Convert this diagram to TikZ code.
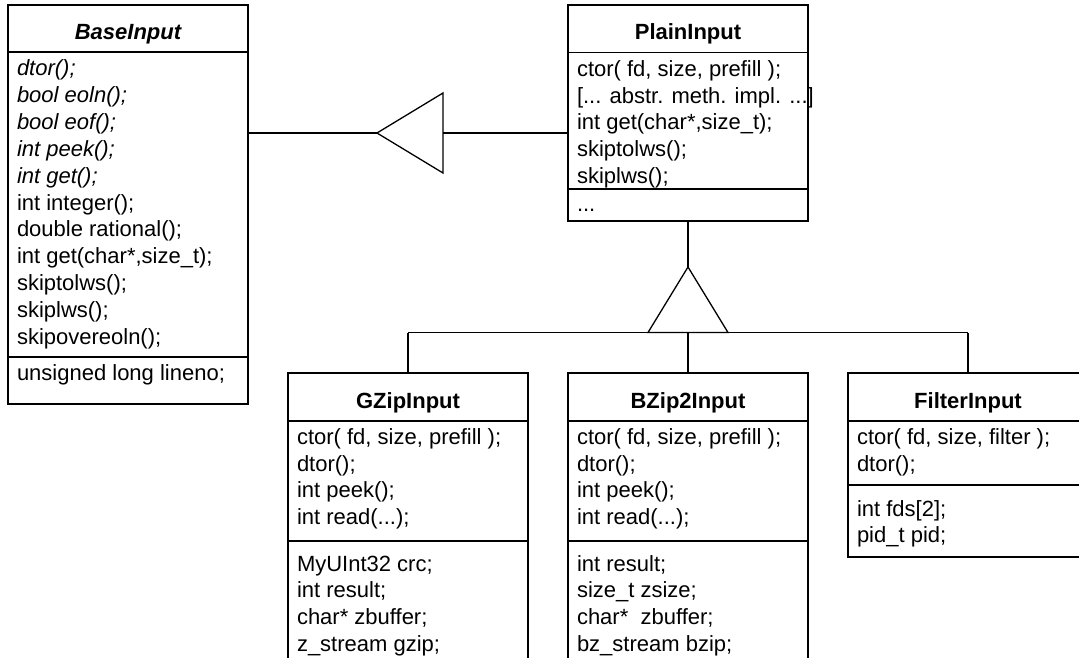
\documentclass[tikz,border=0pt]{standalone}
\usepackage{fontspec}
\setmainfont{Liberation Sans}
\newcommand{\mydots}{...}
\begin{document}
\begin{tikzpicture}[x=1pt,y=-1pt,
  comp/.style={draw=black, line width=1.3pt, minimum width=240pt, inner sep=0pt, outer sep=0pt, anchor=north west},
  txt/.style={font=\fontsize{22}{26.7}\selectfont, inner sep=0pt, outer sep=0pt, anchor=base west},
  ttl/.style={font=\fontsize{22}{26.7}\selectfont\bfseries, inner sep=0pt, outer sep=0pt, anchor=base},
  conn/.style={draw=black, line width=1.3pt}]
\useasboundingbox (0,0) rectangle (1079,658);
\clip (0,0) rectangle (1079,658);

% BaseInput
\node[comp, minimum height=47pt] (baseT) at (8,5) {};
\node[comp, minimum height=305pt] (baseM) at (8,52) {};
\node[comp, minimum height=47pt] (baseA) at (8,357) {};
\node[ttl] (baseN) at (128,40) {\itshape BaseInput};
\foreach \t [count=\i from 0] in {{\itshape dtor();},{\itshape bool eoln();},{\itshape bool eof();},{\itshape int peek();},{\itshape int get();},{int integer();},{double rational();},{int get(char*,size\_t);},{skiptolws();},{skiplws();},{skipovereoln();}}
  \node[txt] (bm\i) at (17,{75.5+26.9*\i}) {\t};
\node[txt] (ba0) at (17,380) {unsigned long lineno;};

% PlainInput
\node[comp, minimum height=47.5pt] (plT) at (568,5) {};
\node[comp, minimum height=136.5pt] (plM) at (568,52.5) {};
\node[comp, minimum height=32pt] (plA) at (568,189) {};
\node[ttl] (plN) at (688,40) {PlainInput};
\foreach \t [count=\i from 0] in {{ctor( fd, size, prefill );},{[\mydots{} abstr. meth. impl. \mydots]},{int get(char*,size\_t);},{skiptolws();},{skiplws();}}
  \node[txt] (pm\i) at (577,{76.5+26.7*\i}) {\t};
\node[txt] (pa0) at (577,211.5) {\mydots};

% GZipInput
\node[comp, minimum height=48pt] (gzT) at (288,373) {};
\node[comp, minimum height=120pt] (gzM) at (288,421) {};
\node[comp, minimum height=180pt] (gzA) at (288,541) {};
\node[ttl] (gzN) at (408,408) {GZipInput};
\foreach \t [count=\i from 0] in {{ctor( fd, size, prefill );},{dtor();},{int peek();},{int read(\mydots);}}
  \node[txt] (gm\i) at (297,{444.5+26.7*\i}) {\t};
\foreach \t [count=\i from 0] in {{MyUInt32 crc;},{int result;},{char* zbuffer;},{z\_stream gzip;}}
  \node[txt] (ga\i) at (297,{571+26.7*\i}) {\t};

% BZip2Input
\node[comp, minimum height=48pt] (bzT) at (568,373) {};
\node[comp, minimum height=120pt] (bzM) at (568,421) {};
\node[comp, minimum height=180pt] (bzA) at (568,541) {};
\node[ttl] (bzN) at (688,408) {BZip2Input};
\foreach \t [count=\i from 0] in {{ctor( fd, size, prefill );},{dtor();},{int peek();},{int read(\mydots);}}
  \node[txt] (bmm\i) at (577,{444.5+26.7*\i}) {\t};
\foreach \t [count=\i from 0] in {{int result;},{size\_t zsize;},{char*\ \ zbuffer;},{bz\_stream bzip;}}
  \node[txt] (baa\i) at (577,{571+26.7*\i}) {\t};

% FilterInput
\node[comp, minimum height=48pt] (fiT) at (848,373) {};
\node[comp, minimum height=64pt] (fiM) at (848,421) {};
\node[comp, minimum height=72pt] (fiA) at (848,485) {};
\node[ttl] (fiN) at (968,408) {FilterInput};
\foreach \t [count=\i from 0] in {{ctor( fd, size, filter );},{dtor();}}
  \node[txt] (fm\i) at (857,{444.5+26.7*\i}) {\t};
\foreach \t [count=\i from 0] in {{int fds[2];},{pid\_t pid;}}
  \node[txt] (fa\i) at (857,{516+26.7*\i}) {\t};

% inheritance PlainInput -> BaseInput
\coordinate (tA) at (377,133);
\coordinate (tAb) at (443,133);
\draw[conn] (baseM.east |- tA) -- (tA);
\draw[conn] (tA) -- (443,93) -- (443,173) -- cycle;
\draw[conn] (tAb) -- (plM.west |- tAb);

% inheritance children -> PlainInput
\coordinate (tB) at (688,267);
\coordinate (tBb) at (688,332.5);
\draw[conn] (plA.south) -- (tB);
\draw[conn] (tB) -- (648,332.5) -- (728,332.5) -- cycle;
\draw[conn] (gzT.north |- tBb) -- (fiT.north |- tBb);
\draw[conn] (gzT.north |- tBb) -- (gzT.north);
\draw[conn] (tBb) -- (bzT.north);
\draw[conn] (fiT.north |- tBb) -- (fiT.north);
\end{tikzpicture}
\end{document}
